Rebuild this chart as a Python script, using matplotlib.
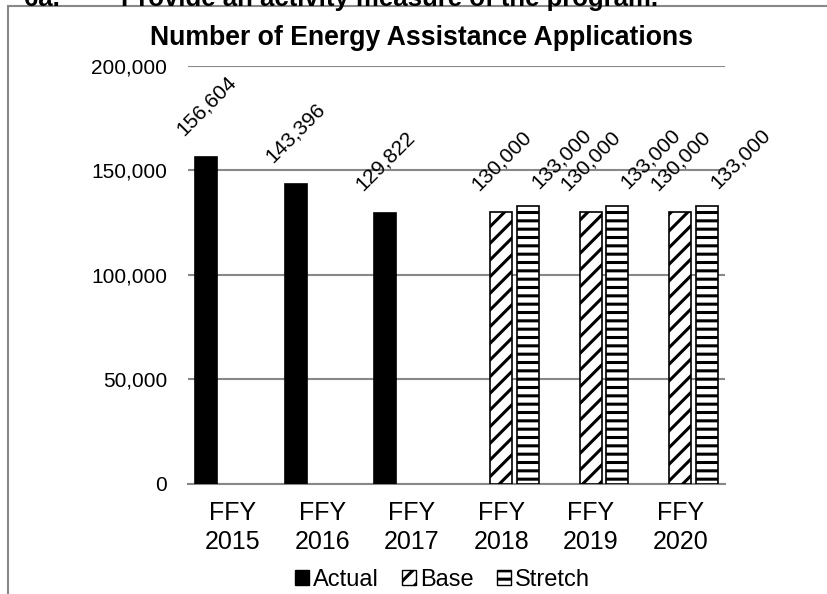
import matplotlib.pyplot as plt
from matplotlib.patches import Rectangle, Patch
from matplotlib.ticker import FuncFormatter

# datos del grafico
years = ['FFY\n2015', 'FFY\n2016', 'FFY\n2017', 'FFY\n2018', 'FFY\n2019', 'FFY\n2020']
actual = [156604, 143396, 129822, None, None, None]
base = [None, None, None, 130000, 130000, 130000]
stretch = [None, None, None, 133000, 133000, 133000]

plt.rcParams['font.family'] = ['Liberation Sans', 'DejaVu Sans']
plt.rcParams['hatch.linewidth'] = 2.2
plt.rcParams['hatch.color'] = 'black'

fig = plt.figure(figsize=(8.27, 5.94), dpi=100)
ax = fig.add_axes([0.2273, 0.1852, 0.6494, 0.7037])

width = 0.245
step = 0.295


def draw_series(values, offset, hatch, face, label_style):
  xs = [i + offset for i, v in enumerate(values) if v is not None]
  hs = [v for v in values if v is not None]
  ax.bar(xs, hs, width, color=face, edgecolor='black', linewidth=1.2,
         hatch=hatch, zorder=3)
  for x, h in zip(xs, hs):
    if label_style == 'center':
      ax.annotate(f'{h:,}', (x, h), xytext=(0, 37), textcoords='offset points',
                  rotation=45, ha='center', va='center', fontsize=15)
    else:
      ax.annotate(f'{h:,}', (x, h), xytext=(0, 10), textcoords='offset points',
                  rotation=45, ha='left', va='bottom', fontsize=15)


draw_series(actual, -step, None, 'black', 'center')
draw_series(base, 0, '//', 'white', 'center')
draw_series(stretch, step, '--', 'white', 'left')

ax.set_xlim(-0.5, len(years) - 0.5)
ax.set_ylim(0, 200000)
ax.set_yticks([0, 50000, 100000, 150000, 200000])
ax.yaxis.set_major_formatter(FuncFormatter(lambda v, p: f'{int(v):,}'))
ax.set_xticks(range(len(years)))
ax.set_xticklabels(years, fontsize=18, linespacing=1.26)
ax.tick_params(axis='y', length=0, pad=15, labelsize=15)
ax.tick_params(axis='x', length=0, pad=12.5)
ax.grid(axis='y', color='#888888', linewidth=1.5, zorder=0)
for s in ['top', 'right', 'left']:
  ax.spines[s].set_visible(False)
ax.spines['bottom'].set_color('#888888')
ax.spines['bottom'].set_linewidth(1.5)

fig.text(422 / 827, 1 - 45 / 594, 'Number of Energy Assistance Applications',
         ha='center', va='baseline', fontsize=19.2, fontweight='bold')
# encabezado cortado arriba
fig.text(24 / 827, 1 - 6 / 594, '6a.', ha='left', va='baseline',
         fontsize=18.5, fontweight='bold')
fig.text(121 / 827, 1 - 6 / 594, 'Provide an activity measure of the program.',
         ha='left', va='baseline', fontsize=18.5, fontweight='bold')

# marco gris
fig.patches.append(Rectangle((7.5 / 827, -0.1), 1.2, 1.1 - 6 / 594,
                             transform=fig.transFigure, fill=False,
                             edgecolor='#888888', linewidth=1.5))

handles = [Patch(facecolor='black', edgecolor='black', label='Actual'),
           Patch(facecolor='white', edgecolor='black', hatch='//', label='Base'),
           Patch(facecolor='white', edgecolor='black', hatch='--', label='Stretch')]
fig.legend(handles=handles, loc='center', bbox_to_anchor=(0.535, 1 - 580 / 594),
           ncol=3, frameon=False, fontsize=17, handlelength=0.6, handleheight=0.6,
           handletextpad=0.15, columnspacing=1.0, borderpad=0)

fig.savefig('out.png', dpi=100)
